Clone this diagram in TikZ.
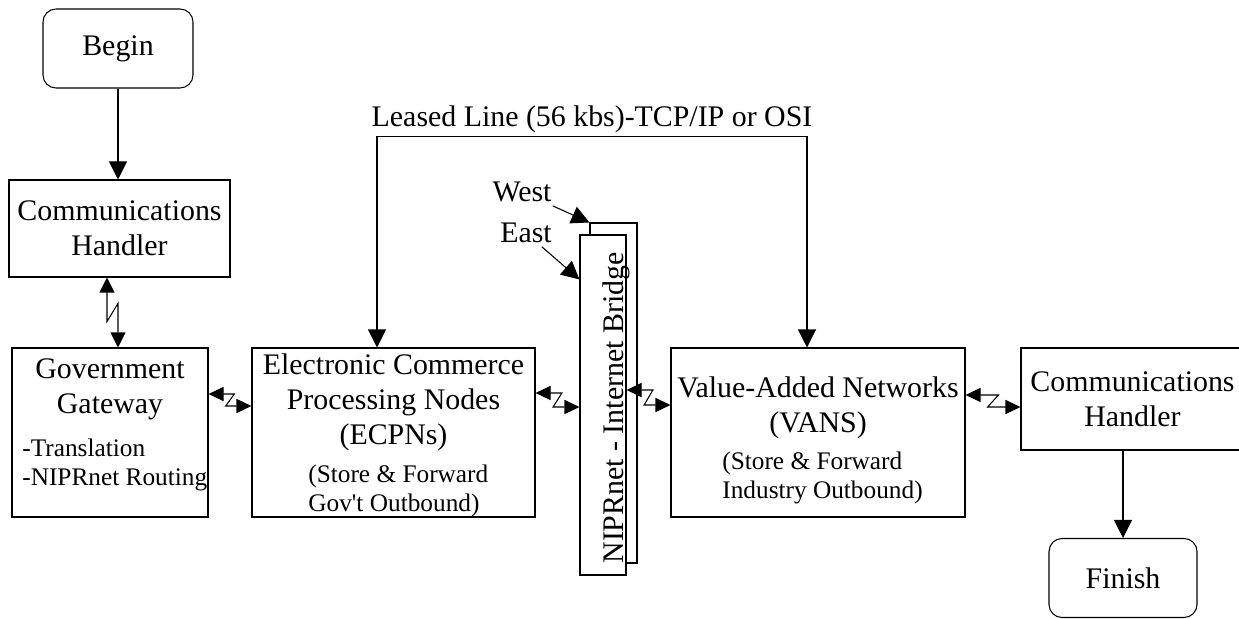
\documentclass[tikz,border=0pt]{standalone}
\usepackage{fontspec}
\setmainfont{Liberation Serif}
\usetikzlibrary{arrows.meta, positioning, calc}

\begin{document}
\begin{tikzpicture}[
    box/.style={rectangle, draw=black, line width=0.6pt, fill=white, inner sep=2pt},
    terminal/.style={box, rounded corners=0.26cm},
    main/.style={font=\fontsize{17}{20}\selectfont, align=center, inner sep=2pt},
    note/.style={font=\fontsize{14.4}{16.5}\selectfont, align=left, anchor=west, inner sep=0pt},
    arrow/.style={-{Triangle[length=0.36cm, width=0.36cm]}, line width=0.6pt},
    twoway/.style={{Triangle[length=0.36cm, width=0.36cm]}-{Triangle[length=0.36cm, width=0.36cm]}, line width=0.6pt},
    bolt/.style={{Triangle[length=0.3cm, width=0.28cm]}-{Triangle[length=0.3cm, width=0.28cm]}, line width=0.6pt,
        to path={let \p1=(\tikztostart), \p2=(\tikztotarget) in
            -- ({\x1+0.6*(\x2-\x1)}, \y1) -- ({\x2-0.6*(\x2-\x1)}, \y2) -- (\tikztotarget)}},
    vbolt/.style={{Triangle[length=0.3cm, width=0.3cm]}-{Triangle[length=0.3cm, width=0.3cm]}, line width=0.6pt,
        to path={let \p1=(\tikztostart), \p2=(\tikztotarget) in
            -- (\x1, {\y1+0.63*(\y2-\y1)}) -- (\x2, {\y2-0.63*(\y2-\y1)}) -- (\tikztotarget)}}
]
\useasboundingbox (0,0) rectangle (24.78,-12.36);

% Government side
\node[terminal, main, minimum width=3cm, minimum height=1.58cm] (begin) at (2.36,-0.97) {Begin};
\node[box, main, minimum width=4.42cm, minimum height=1.94cm] (ch1) at (2.39,-4.57) {Communications\\Handler};
\node[box, minimum width=3.92cm, minimum height=3.38cm] (gw) at (2.2,-8.65) {};
\node[main] (gwtitle) at (2.2,-7.79) {Government\\Gateway};
\node[note] (gwnote) at (0.44,-9.30) {-Translation\\-NIPRnet Routing};

% Processing nodes
\node[box, minimum width=5.66cm, minimum height=3.38cm] (ecpn) at (7.87,-8.65) {};
\node[main] (ecpntitle) at (7.87,-8.05) {Electronic Commerce\\Processing Nodes\\(ECPNs)};
\node[note] (ecpnnote) at (6.16,-9.81) {(Store \& Forward\\Gov\textquotesingle t Outbound)};

% Bridge
\node[box, minimum width=0.94cm, minimum height=6.8cm] (bridgew) at (12.27,-7.86) {};
\node[box, minimum width=0.92cm, minimum height=6.8cm] (bridgee) at (12.06,-8.10) {};
\node[main, rotate=90, anchor=base] (bridgetext) at (12.46,-8.16) {NIPRnet - Internet Bridge};
\node[main] (westlbl) at (10.44,-3.84) {West};
\node[main] (eastlbl) at (10.52,-4.66) {East};

% Industry side
\node[box, minimum width=5.88cm, minimum height=3.38cm] (vans) at (16.36,-8.65) {};
\node[main] (vanstitle) at (16.36,-8.15) {Value-Added Networks\\(VANS)};
\node[note] (vansnote) at (14.44,-9.56) {(Store \& Forward\\Industry Outbound)};
\node[box, main, minimum width=4.46cm, minimum height=2.04cm] (ch2) at (22.65,-7.98) {Communications\\Handler};
\node[terminal, main, minimum width=2.96cm, minimum height=1.58cm] (finish) at (22.46,-11.56) {Finish};

% Connections
\draw[arrow] (begin.south) -- (begin.south |- ch1.north);
\draw[vbolt] ([xshift=-0.25cm]ch1.south) to ([xshift=0.16cm]gw.north);
\draw[bolt] ([yshift=0.77cm]gw.east) to ([yshift=0.53cm]ecpn.west);
\draw[bolt] ([yshift=0.79cm]ecpn.east) to ([yshift=-0.04cm]bridgee.west);
\draw[bolt] ([yshift=0.30cm]bridgee.east) to ([yshift=0.55cm]vans.west);
\draw[bolt] ([yshift=0.75cm]vans.east) to ([yshift=-0.16cm]ch2.west);
\draw[arrow] (westlbl) -- (bridgew.north west);
\draw[arrow] (eastlbl) -- ([yshift=-0.9cm]bridgee.north west);
\draw[twoway] ([xshift=-0.33cm]ecpn.north) -- ++(0,4.22) -| node[pos=0.25, above, main] (leased) {Leased Line (56 kbs)-TCP/IP or OSI} ([xshift=-0.22cm]vans.north);
\draw[arrow] (ch2.south -| finish.north) -- (finish.north);

\end{tikzpicture}
\end{document}
